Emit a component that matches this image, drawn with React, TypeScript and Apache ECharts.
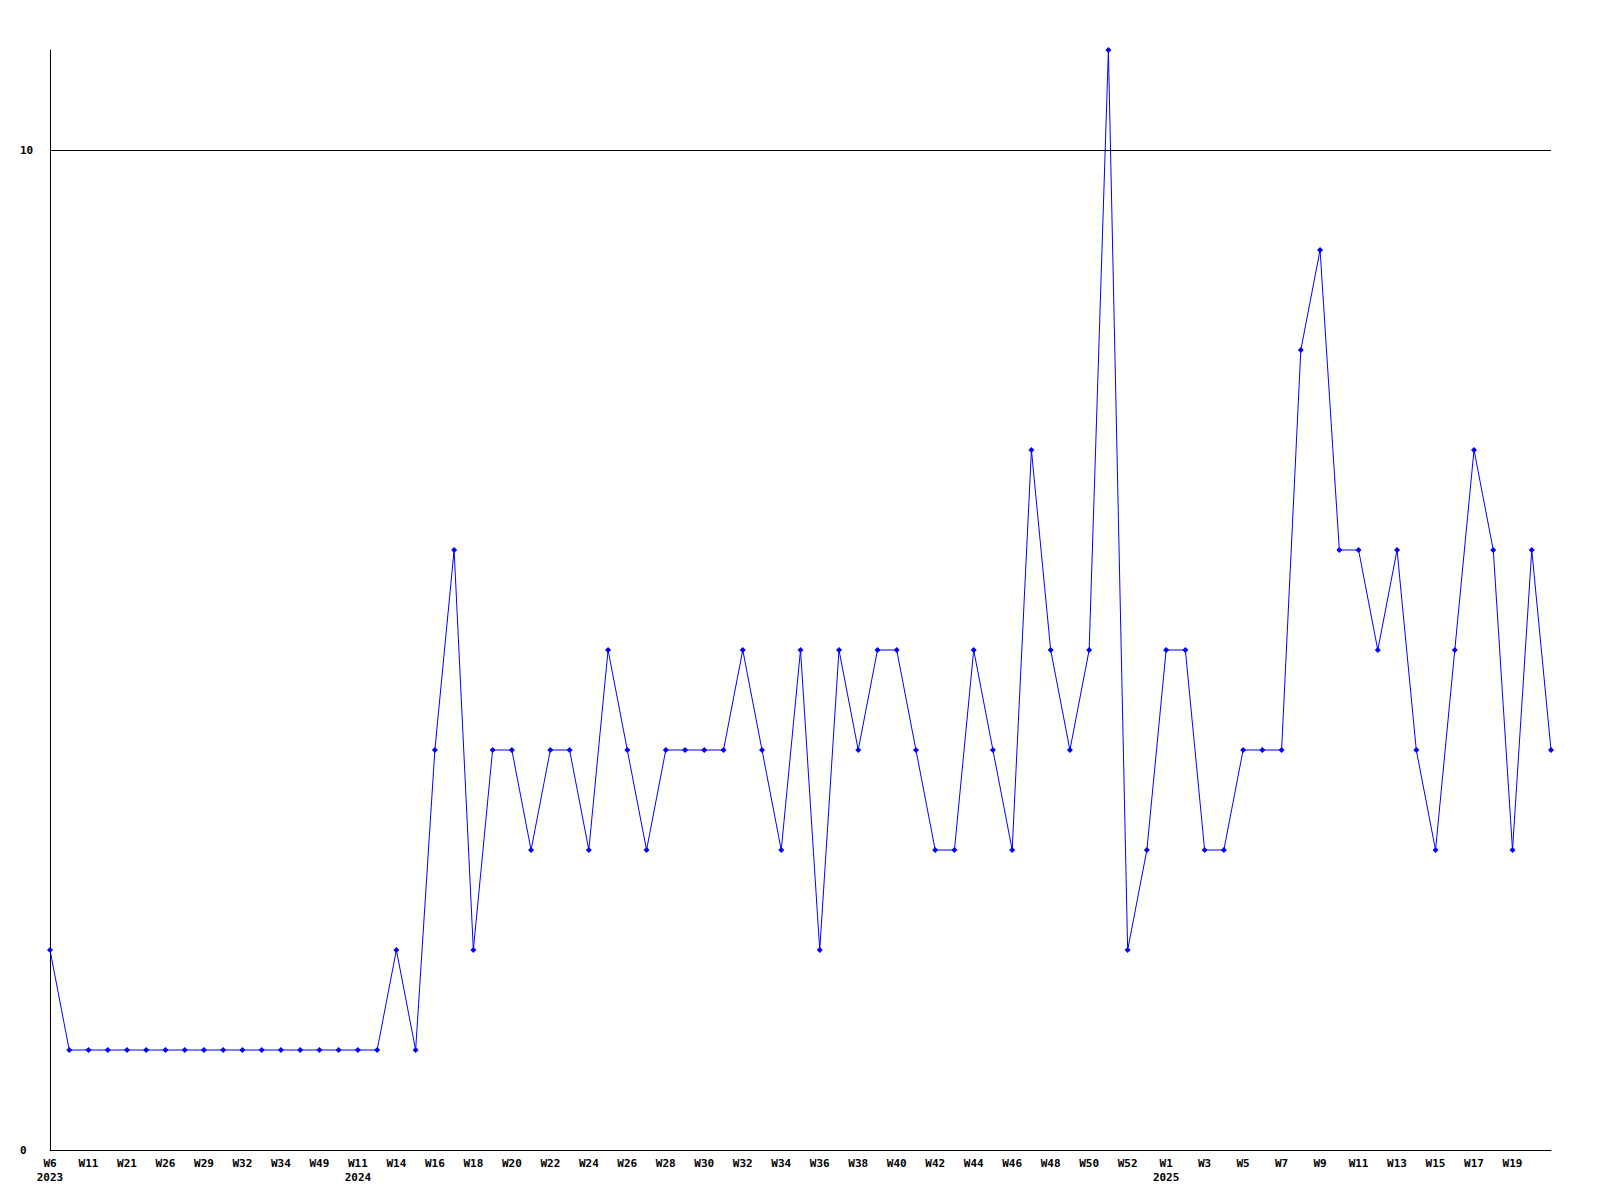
import React, { useEffect, useRef } from "react";
import * as echarts from "echarts";

const years: string[] = [
  "2023", "2023", "2023", "2023", "2023", "2023", "2023", "2023", "2023", "2023",
  "2023", "2023", "2023", "2023", "2023", "2024", "2024", "2024", "2024", "2024",
  "2024", "2024", "2024", "2024", "2024", "2024", "2024", "2024", "2024", "2024",
  "2024", "2024", "2024", "2024", "2024", "2024", "2024", "2024", "2024", "2024",
  "2024", "2024", "2024", "2024", "2024", "2024", "2024", "2024", "2024", "2024",
  "2024", "2024", "2024", "2024", "2024", "2024", "2024", "2024", "2025", "2025",
  "2025", "2025", "2025", "2025", "2025", "2025", "2025", "2025", "2025", "2025",
  "2025", "2025", "2025", "2025", "2025", "2025", "2025", "2025", "2025",
];

const weeks: string[] = [
  "W6", "W8", "W11", "W15", "W21", "W24", "W26", "W27", "W29", "W31",
  "W32", "W33", "W34", "W40", "W49", "W3", "W11", "W13", "W14", "W15",
  "W16", "W17", "W18", "W19", "W20", "W21", "W22", "W23", "W24", "W25",
  "W26", "W27", "W28", "W29", "W30", "W31", "W32", "W33", "W34", "W35",
  "W36", "W37", "W38", "W39", "W40", "W41", "W42", "W43", "W44", "W45",
  "W46", "W47", "W48", "W49", "W50", "W51", "W52", "W1", "W1", "W2",
  "W3", "W4", "W5", "W6", "W7", "W8", "W9", "W10", "W11", "W12",
  "W13", "W14", "W15", "W16", "W17", "W18", "W19", "W20", "W21",
];

const values: number[] = [
  2, 1, 1, 1, 1, 1, 1, 1, 1, 1,
  1, 1, 1, 1, 1, 1, 1, 1, 2, 1,
  4, 6, 2, 4, 4, 3, 4, 4, 3, 5,
  4, 3, 4, 4, 4, 4, 5, 4, 3, 5,
  2, 5, 4, 5, 5, 4, 3, 3, 5, 4,
  3, 7, 5, 4, 5, 11, 2, 3, 5, 5,
  3, 3, 4, 4, 4, 8, 9, 6, 6, 5,
  6, 4, 3, 5, 7, 6, 3, 6, 4,
];

const yTicks: number[] = [0, 10];
const yMax = 11;

export default function App() {
  const ref = useRef<HTMLDivElement>(null);

  useEffect(() => {
    if (!ref.current) return;
    const chart = echarts.init(ref.current, null, { renderer: "svg" });
    const categories = years.map((y, i) => `${y}-${weeks[i]}`);
    const firstShownOfYear = new Set<number>();
    const seen = new Set<string>();
    years.forEach((y, i) => {
      if (i % 2 === 0 && !seen.has(y)) {
        seen.add(y);
        firstShownOfYear.add(i);
      }
    });
    const lastIdx = categories.length - 1;
    const font = {
      fontFamily: "DejaVu Sans Mono",
      fontSize: 11,
      fontWeight: "bold" as const,
      color: "#000",
    };
    chart.setOption({
      animation: false,
      backgroundColor: "#fff",
      grid: { left: 50, right: 49, top: 50, bottom: 50, containLabel: false },
      xAxis: {
        type: "category",
        data: categories,
        boundaryGap: false,
        axisLine: { show: true, lineStyle: { color: "#000", width: 1 } },
        axisTick: { show: false },
        splitLine: { show: false },
        axisLabel: {
          ...font,
          interval: 1,
          margin: 6,
          lineHeight: 14,
          verticalAlign: "top",
          formatter: (_v: string, i: number) =>
            i === lastIdx
              ? ""
              : firstShownOfYear.has(i)
              ? `${weeks[i]}\n${years[i]}`
              : weeks[i],
        },
      },
      yAxis: {
        type: "value",
        min: yTicks[0],
        max: yMax,
        interval: yTicks[1] - yTicks[0],
        axisLine: { show: true, lineStyle: { color: "#000", width: 1 } },
        axisTick: { show: false },
        splitLine: { show: false },
        axisLabel: {
          ...font,
          align: "left",
          margin: 30,
          formatter: (v: number) => (yTicks.includes(v) ? String(v) : ""),
        },
      },
      series: [
        {
          type: "line",
          data: values,
          lineStyle: { color: "#0000ff", width: 1 },
          itemStyle: { color: "#0000ff" },
          symbol: "diamond",
          symbolSize: 6,
          showSymbol: true,
          showAllSymbol: true,
          z: 3,
          markLine: {
            silent: true,
            symbol: "none",
            label: { show: false },
            lineStyle: { color: "#000", width: 1, type: "solid" },
            data: yTicks.filter((t) => t > 0).map((t) => ({ yAxis: t })),
          },
        },
      ],
    });
    return () => chart.dispose();
  }, []);

  return <div ref={ref} style={{ width: 1600, height: 1200, margin: -8 }} />;
}
